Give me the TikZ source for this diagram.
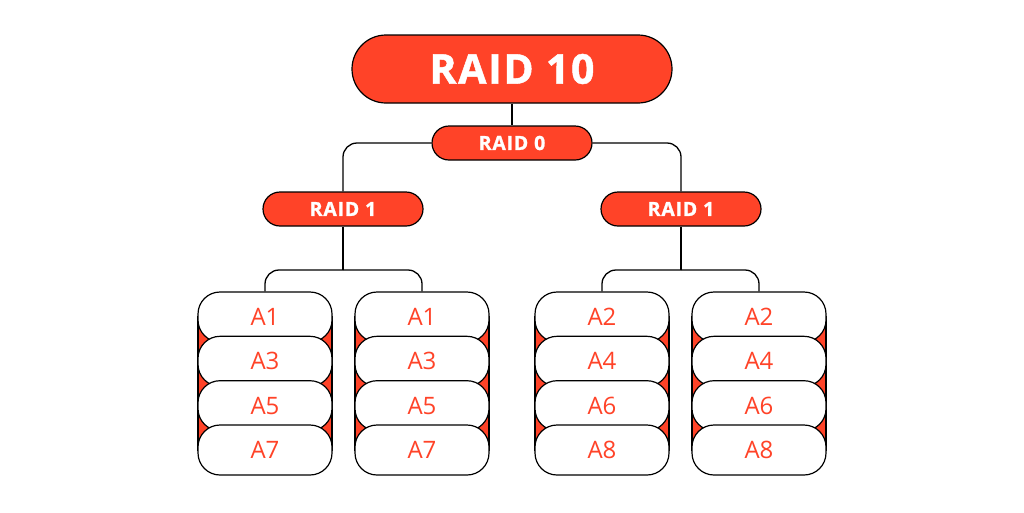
\documentclass[tikz,border=0pt]{standalone}
\usepackage{fontspec}
\setmainfont{Open Sans}
\newfontfamily\heavyfont[FakeBold=1.2,LetterSpace=4]{Open Sans}[BoldFeatures={FakeBold=1.2,LetterSpace=4}]
\definecolor{raidred}{HTML}{FF4328}
\begin{document}
\begin{tikzpicture}[x=1pt,y=-1pt,
  pill/.style={draw=black, line width=1.2pt, fill=raidred, text=white, inner sep=0pt},
  bigpill/.style={pill, minimum width=320pt, minimum height=68pt, rounded corners=34pt, font=\heavyfont\bfseries\fontsize{41}{41}\selectfont},
  smallpill/.style={pill, minimum width=160pt, minimum height=34pt, rounded corners=17pt, font=\heavyfont\bfseries\fontsize{19.5}{19.5}\selectfont},
  cell/.style={draw=black, line width=1.2pt, fill=white, rounded corners=22pt, minimum width=134pt, minimum height=50pt, inner sep=0pt, text=raidred, font=\fontsize{24}{24}\selectfont},
  stackback/.style={draw=black, line width=1.2pt, fill=raidred},
  link/.style={draw=black, line width=1.3pt, rounded corners=14pt}]
\useasboundingbox (0,0) rectangle (1024,512);
\fill[white] (0,0) rectangle (1024,512);

\node[bigpill] (r10) at (512,69) {RAID 10};
\node[smallpill] (r0) at (512,143) {RAID 0};
\node[smallpill] (r1l) at (343,209) {RAID 1};
\node[smallpill] (r1r) at (681,209) {RAID 1};

\foreach \cx/\sn/\la/\lb/\lc/\ld in {265/a/A1/A3/A5/A7, 422/b/A1/A3/A5/A7, 602/c/A2/A4/A6/A8, 759/d/A2/A4/A6/A8} {
  \draw[stackback] (\cx-67,317) rectangle (\cx+67,450);
  \node[cell] (\sn1) at (\cx,317) {\la};
  \node[cell] (\sn2) at (\cx,361.3) {\lb};
  \node[cell] (\sn3) at (\cx,405.7) {\lc};
  \node[cell] (\sn4) at (\cx,450) {\ld};
}

\coordinate (jl) at (343,270);
\coordinate (jr) at (681,270);

\draw[link] (r10.south) -- (r0.north);
\draw[link] (r0.west) -| (r1l.north);
\draw[link] (r0.east) -| (r1r.north);
\draw[link] (r1l.south) -- (jl);
\draw[link] (r1r.south) -- (jr);
\draw[link] (jl) -| (a1.north);
\draw[link] (jl) -| (b1.north);
\draw[link] (jr) -| (c1.north);
\draw[link] (jr) -| (d1.north);
\end{tikzpicture}
\end{document}
